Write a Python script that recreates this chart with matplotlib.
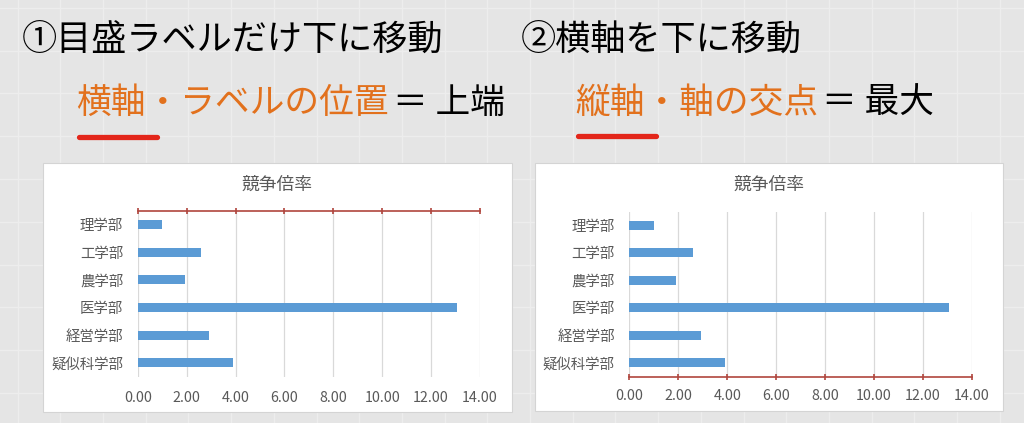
import matplotlib
matplotlib.use("Agg")
import matplotlib.pyplot as plt
from matplotlib.patches import Rectangle
import numpy as np

plt.rcParams['font.family'] = ['Noto Sans CJK JP', 'DejaVu Sans']

# ---------------- data ----------------
categories = ["理学部", "工学部", "農学部", "医学部", "経営学部", "疑似科学部"]
values = [0.99, 2.60, 1.92, 13.06, 2.92, 3.90]
x_ticks = [0, 2, 4, 6, 8, 10, 12, 14]
x_tick_labels = ["0.00", "2.00", "4.00", "6.00", "8.00", "10.00", "12.00", "14.00"]
chart_title = "競争倍率"
heading1 = "①目盛ラベルだけ下に移動"
heading1_orange = "横軸・ラベルの位置"
heading1_black = "＝ 上端"
heading2 = "②横軸を下に移動"
heading2_orange = "縦軸・軸の交点"
heading2_black = "＝ 最大"

W, H = 1024, 423
fig = plt.figure(figsize=(W / 100, H / 100), dpi=100)
fig.patch.set_facecolor("#e5e5e5")

# background axes in pixel coordinates
bg = fig.add_axes([0, 0, 1, 1])
bg.set_xlim(0, W)
bg.set_ylim(H, 0)
bg.axis("off")
for gx in np.arange(17.6, W, 42.7):
    bg.axvline(gx, color="#ededed", lw=1.0, zorder=0)
for gy in np.arange(7.8, H, 42.8):
    bg.axhline(gy, color="#ededed", lw=1.0, zorder=0)

ORANGE = "#e2711d"
RED_AXIS = "#b0453d"
GRAY_TXT = "#595959"
BAR = "#5b9bd5"


def rect(x0, y0, x1, y1):
    return [x0 / W, 1 - y1 / H, (x1 - x0) / W, (y1 - y0) / H]


def chart(box, plot, axis_top):
    bx0, by0, bx1, by1 = box
    bg.add_patch(Rectangle((bx0, by0), bx1 - bx0, by1 - by0, facecolor="white",
                           edgecolor="#d4d4d4", lw=0.8, zorder=1))
    bg.text((bx0 + bx1) / 2, 185, chart_title, ha="center", va="center",
            fontsize=12.8, color=GRAY_TXT, zorder=2)
    ax = fig.add_axes(rect(*plot))
    ax.set_facecolor("none")
    y = np.arange(len(categories))
    ax.barh(y, values, height=0.33, color=BAR, zorder=3)
    ax.set_ylim(len(categories) - 0.5, -0.5)
    ax.set_xlim(0, 14)
    ax.set_yticks(y)
    ax.set_yticklabels(categories, fontsize=10.4, color=GRAY_TXT)
    ax.tick_params(axis="y", length=0, pad=10.5)
    ax.set_xticks(x_ticks)
    ax.set_xticklabels(x_tick_labels, fontsize=10.3, color=GRAY_TXT)
    ax.grid(axis="x", color="#d9d9d9", lw=0.9, zorder=0)
    for s in ax.spines.values():
        s.set_visible(False)
    if axis_top:
        ax.spines["top"].set_visible(True)
        ax.spines["top"].set_color(RED_AXIS)
        ax.spines["top"].set_linewidth(1.2)
        ax.tick_params(axis="x", top=True, bottom=False, labeltop=False,
                       labelbottom=True, direction="inout", length=5,
                       width=1.2, color=RED_AXIS, pad=7.5)
    else:
        ax.spines["bottom"].set_visible(True)
        ax.spines["bottom"].set_color(RED_AXIS)
        ax.spines["bottom"].set_linewidth(1.2)
        ax.tick_params(axis="x", top=False, bottom=True, labeltop=False,
                       labelbottom=True, direction="inout", length=5,
                       width=1.2, color=RED_AXIS, pad=6.5)
    return ax


chart((43, 163, 511.7, 411.7), (137.7, 210.7, 480, 376.7), axis_top=True)
chart((535, 163, 1003, 410.7), (629.3, 211.7, 972, 376.7), axis_top=False)

# headings
bg.text(22, 40, heading1, ha="left", va="center", fontsize=25.3, color="black")
bg.text(521, 40, heading2, ha="left", va="center", fontsize=25.3, color="black")

fig.canvas.draw()
renderer = fig.canvas.get_renderer()


def chained(x, yc, orange, black, gap):
    t1 = bg.text(x, yc, orange, ha="left", va="center", fontsize=25, color=ORANGE)
    bb = t1.get_window_extent(renderer)
    xend = bb.x1  # display pixels == data x here
    bg.text(xend + gap, yc, black, ha="left", va="center", fontsize=25, color="black")


chained(76, 103, heading1_orange, heading1_black, 4)
chained(575, 103, heading2_orange, heading2_black, 4)

bg.plot([79, 157], [137, 137], color="#e3261a", lw=3.8, solid_capstyle="round")
bg.plot([578, 656], [136, 136], color="#e3261a", lw=3.8, solid_capstyle="round")

fig.savefig("out.png", dpi=100, facecolor=fig.get_facecolor())
